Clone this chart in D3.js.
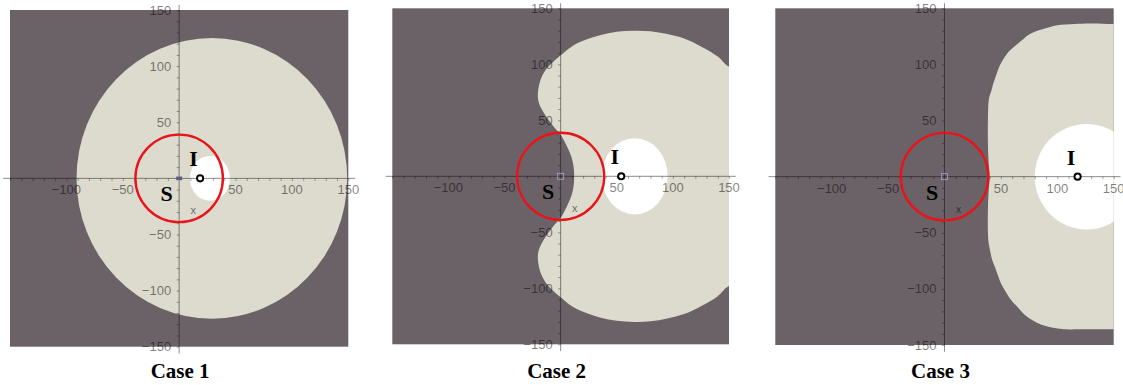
<!DOCTYPE html>
<html><head><meta charset="utf-8">
<script src="https://cdn.jsdelivr.net/npm/d3@7"></script>
<style>
html,body{margin:0;padding:0;background:#fff;}
svg{display:block;}
</style></head>
<body>
<svg id="chart" width="1123" height="385"></svg>
<script>
// ---------- data ----------
const caseTitles = ["Case 1", "Case 2", "Case 3"];
const axisDomain = [-150, 150];
const xTickLabels = [-100, -50, 50, 100, 150];
const yTickLabels = [150, 100, 50, -50, -100, -150];
const minorTickStep = 10;

// source S is at the origin; interferer I sits on the x axis
const sourcePoint = [0, 0];
const interfererX = [18.6, 54, 118];
const redCircleRadius = [38.8, 38.8, 38.8];

// Case 1 light region: ellipse [cx, cy, rx, ry]
const case1Region = [29, 0, 120, 125];

// Case 2 light region boundary (x, y)
const case2Region = [
  [170, 96], [150, 98], [140, 107], [125, 116], [110, 123], [95, 127], [80, 129.5], [65, 130],
  [50, 129], [35, 126], [20, 121], [10, 116], [0, 108], [-8, 101], [-14, 94], [-18, 86],
  [-20, 77], [-20, 68], [-17, 60], [-12, 52], [-6, 44], [0, 37], [5, 28], [9, 19], [11.5, 9], [12, 0],
  [11.5, -9], [9, -19], [5, -28], [0, -37], [-6, -44], [-12, -52], [-17, -60], [-20, -68],
  [-20, -77], [-18, -86], [-14, -94], [-8, -101], [0, -108], [10, -116], [20, -121], [35, -126],
  [50, -129], [65, -130], [80, -129.5], [95, -127], [110, -123], [125, -116], [140, -107], [150, -98], [170, -96]
];

// Case 3 light region boundary (x, y)
const case3Region = [
  [175, 136], [150, 136], [130, 136.5], [115, 136], [100, 135], [92, 133], [86, 131], [80, 129],
  [74, 126], [68, 121], [62, 116], [57, 111.5], [53, 106], [49, 99], [46, 91], [43, 82],
  [41.4, 76], [40, 72], [39, 66], [38.5, 50], [38.5, 30], [39, 15], [40, 0],
  [39, -15], [38.5, -30], [38.5, -50], [39, -58], [40, -64], [41, -69], [42.5, -75], [44.5, -80],
  [47, -87], [50, -95], [54, -102], [59, -110], [64.5, -116], [71, -123], [78, -128], [86, -132],
  [95, -134.5], [106, -136], [120, -136], [150, -136], [175, -136]
];

// white (no-coverage) hole around I: centre x, radii
const holeCx = [27.3, 66, 126];
const holeRx = [17.7, 29.4, 46];
const holeRy = [20, 34, 47];

// ---------- layout ----------
const panelLeft = [10, 392.3, 775.3];
const panelRight = [348.3, 729, 1113.7];
const panelTop = [10, 8.3, 8.3];
const panelBottom = [346.7, 344.3, 345];
const originMarkerFill = ["#5e5e7c", "none", "none"];
const originMarkerStroke = ["none", "#a8a8cc", "#a8a8cc"];

const DARK = "#6b6268";
const LIGHT = "#dcdbcd";

const svg = d3.select("#chart");
const defs = svg.append("defs");

caseTitles.forEach((title, i) => {
  const x = d3.scaleLinear().domain(axisDomain).range([panelLeft[i], panelRight[i]]);
  const y = d3.scaleLinear().domain(axisDomain).range([panelBottom[i], panelTop[i]]);
  const g = svg.append("g");

  defs.append("clipPath").attr("id", "clip" + i)
    .append("rect")
    .attr("x", x(-150)).attr("y", y(150))
    .attr("width", x(150) - x(-150)).attr("height", y(-150) - y(150));

  // dark background
  g.append("rect")
    .attr("x", x(-150)).attr("y", y(150))
    .attr("width", x(150) - x(-150)).attr("height", y(-150) - y(150))
    .attr("fill", DARK);

  const clipped = g.append("g").attr("clip-path", `url(#clip${i})`);

  // light region
  if (i === 0) {
    clipped.append("ellipse")
      .attr("cx", x(case1Region[0])).attr("cy", y(case1Region[1]))
      .attr("rx", x(case1Region[0] + case1Region[2]) - x(case1Region[0]))
      .attr("ry", y(case1Region[1]) - y(case1Region[1] + case1Region[3]))
      .attr("fill", LIGHT);
  } else {
    const pts = i === 1 ? case2Region : case3Region;
    const line = d3.line().x(d => x(d[0])).y(d => y(d[1])).curve(d3.curveCatmullRomClosed.alpha(0.5));
    clipped.append("path").attr("d", line(pts)).attr("fill", LIGHT);
  }

  // white hole
  clipped.append("ellipse")
    .attr("cx", x(holeCx[i])).attr("cy", y(0))
    .attr("rx", x(holeCx[i] + holeRx[i]) - x(holeCx[i]))
    .attr("ry", y(0) - y(holeRy[i]))
    .attr("fill", "#ffffff");

  // axes
  const axisColor = "rgba(0,0,0,0.45)";
  g.append("line")
    .attr("x1", x(-156)).attr("x2", x(156))
    .attr("y1", y(0)).attr("y2", y(0))
    .attr("stroke", axisColor).attr("stroke-width", 1);
  g.append("line")
    .attr("x1", x(0)).attr("x2", x(0))
    .attr("y1", y(154.5)).attr("y2", y(-156))
    .attr("stroke", axisColor).attr("stroke-width", 1);

  const minor = x.ticks(300 / minorTickStep).filter(v => v !== 0);
  const xAx = d3.axisBottom(x).tickValues(minor).tickSize(2.5).tickSizeOuter(0).tickFormat("");
  const yAx = d3.axisLeft(y).tickValues(minor).tickSize(2.5).tickSizeOuter(0).tickFormat("");
  const xg = g.append("g").attr("transform", `translate(0,${y(0)})`).call(xAx);
  const yg = g.append("g").attr("transform", `translate(${x(0)},0)`).call(yAx);
  [xg, yg].forEach(a => {
    a.select(".domain").remove();
    a.selectAll("line").attr("stroke", axisColor).attr("stroke-width", 0.8);
  });

  const fmt = v => (v < 0 ? "\u2212" + Math.abs(v) : String(v));
  g.selectAll(".xl").data(xTickLabels).enter().append("text")
    .attr("x", d => x(d)).attr("y", y(0) + 16)
    .attr("text-anchor", "middle")
    .attr("font-family", "Liberation Sans, Arial, sans-serif").attr("font-size", 13)
    .attr("fill", "#000").attr("fill-opacity", 0.5)
    .text(fmt);
  g.selectAll(".yl").data(yTickLabels).enter().append("text")
    .attr("x", x(0) - 8).attr("y", d => y(d) + 4.6)
    .attr("text-anchor", "end")
    .attr("font-family", "Liberation Sans, Arial, sans-serif").attr("font-size", 13)
    .attr("fill", "#000").attr("fill-opacity", 0.5)
    .text(fmt);

  // axis name "x"
  g.append("text")
    .attr("x", x(0) + 14).attr("y", y(0) + 36)
    .attr("text-anchor", "middle")
    .attr("font-family", "Liberation Sans, Arial, sans-serif").attr("font-size", 11)
    .attr("fill", "#000").attr("fill-opacity", 0.55)
    .text("x");

  // origin marker
  g.append("rect")
    .attr("x", x(sourcePoint[0]) - 3).attr("y", y(sourcePoint[1]) - (i === 0 ? 1.8 : 3))
    .attr("width", 6).attr("height", i === 0 ? 3.6 : 6)
    .attr("fill", originMarkerFill[i]).attr("stroke", originMarkerStroke[i]).attr("stroke-width", 0.8);

  // red coverage circle around S
  g.append("circle")
    .attr("cx", x(sourcePoint[0])).attr("cy", y(sourcePoint[1]))
    .attr("r", x(redCircleRadius[i]) - x(0))
    .attr("fill", "none").attr("stroke", "#e8141b").attr("stroke-width", 2.4);

  // I marker
  g.append("circle")
    .attr("cx", x(interfererX[i])).attr("cy", y(0))
    .attr("r", 3.1)
    .attr("fill", "#fff").attr("stroke", "#000").attr("stroke-width", 1.9);

  // labels S and I
  g.append("text")
    .attr("x", x(sourcePoint[0]) - 12.5).attr("y", y(sourcePoint[1]) + 23)
    .attr("text-anchor", "middle")
    .attr("font-family", "Liberation Serif, Times New Roman, serif").attr("font-weight", "bold").attr("font-size", 22)
    .attr("fill", "#000").text("S");
  g.append("text")
    .attr("x", x(interfererX[i]) - 6.5).attr("y", y(0) - 12)
    .attr("text-anchor", "middle")
    .attr("font-family", "Liberation Serif, Times New Roman, serif").attr("font-weight", "bold").attr("font-size", 22)
    .attr("fill", "#000").text("I");

  // case title
  g.append("text")
    .attr("x", x(0) + (i === 0 ? 1 : -4)).attr("y", 378)
    .attr("text-anchor", "middle")
    .attr("font-family", "Liberation Serif, Times New Roman, serif").attr("font-weight", "bold").attr("font-size", 21)
    .attr("fill", "#000").text(title);
});
</script>
</body></html>
